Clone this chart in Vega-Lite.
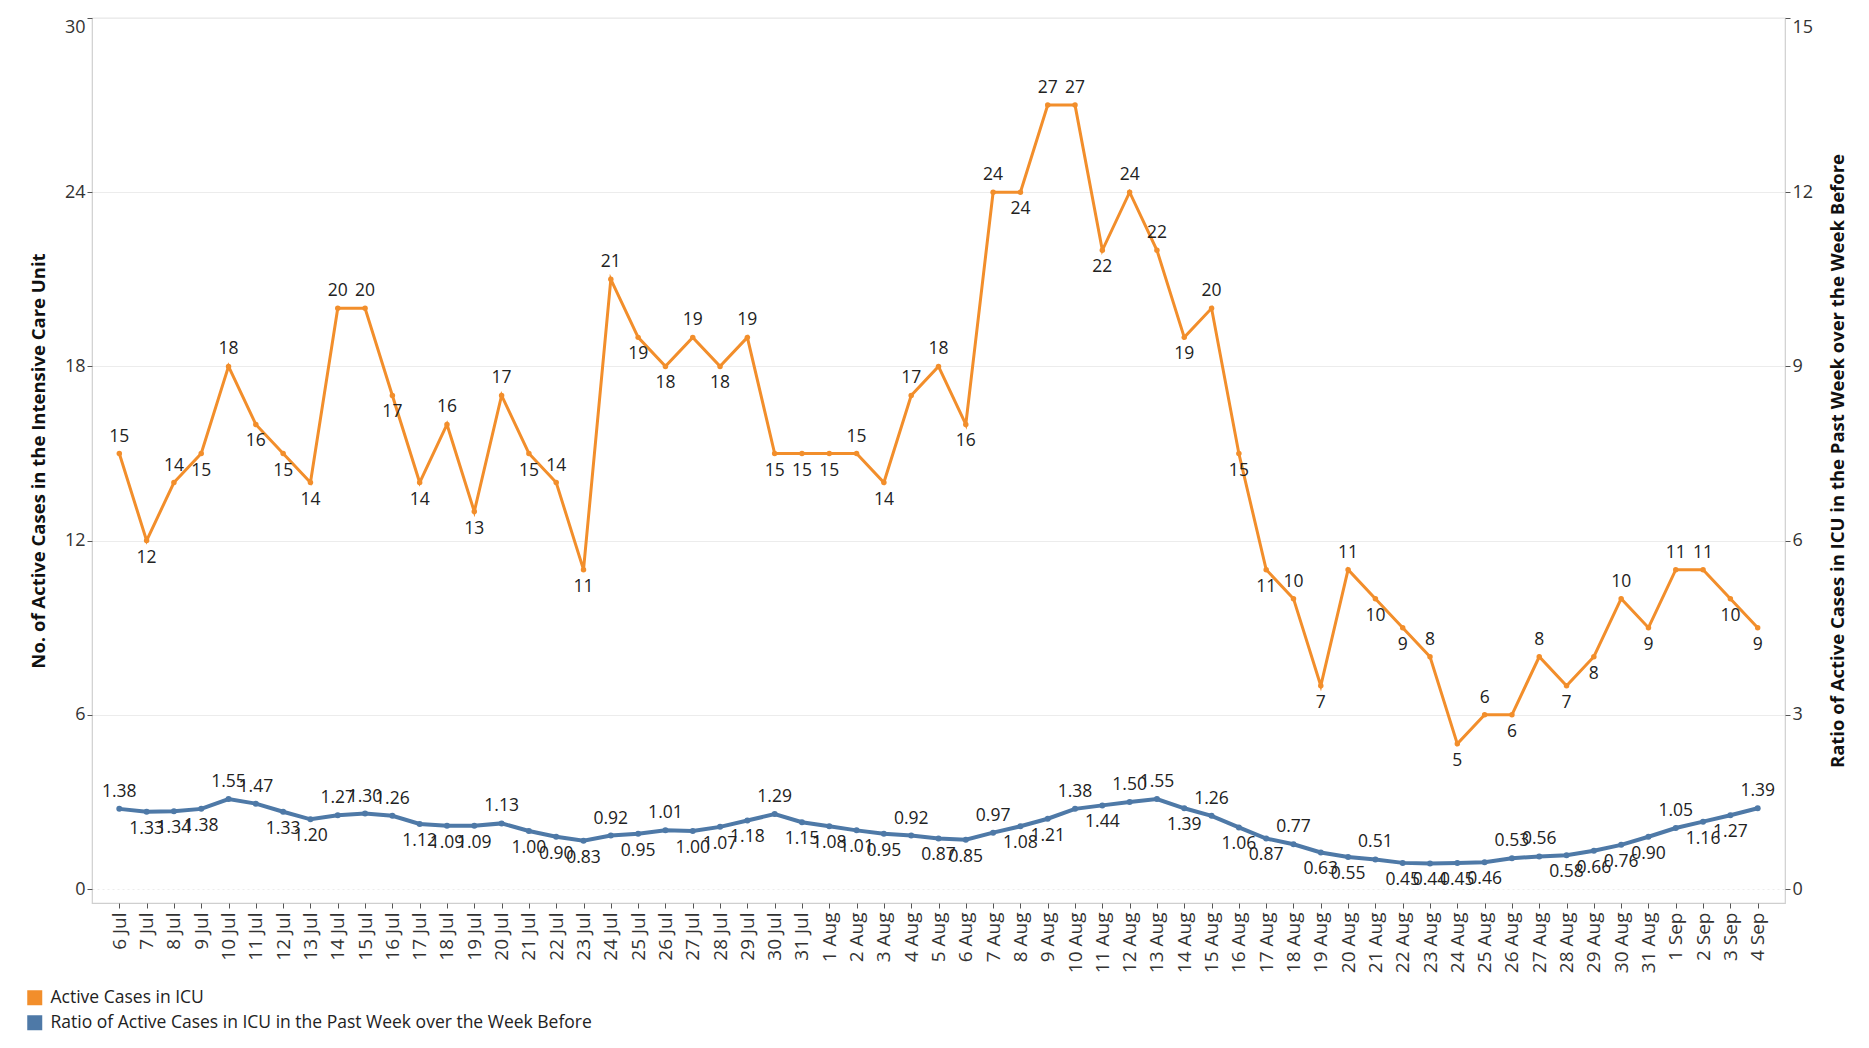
{
  "$schema": "https://vega.github.io/schema/vega-lite/v6.json",
  "width": 1693,
  "height": 885,
  "autosize": {"type": "none"},
  "padding": {"left": 92, "top": 18, "right": 84, "bottom": 145},
  "background": "white",
  "config": {
    "font": "Open Sans",
    "view": {"stroke": "#cfcfcf", "strokeWidth": 1.2},
    "axis": {
      "domain": false,
      "labelFontSize": 18,
      "labelColor": "#333333",
      "tickColor": "#555555",
      "tickSize": 5,
      "labelPadding": 2,
      "titleFontSize": 18.5,
      "titleFontWeight": "bold",
      "titleColor": "#111111"
    },
    "legend": {
      "orient": "none",
      "legendX": -66,
      "legendY": 971,
      "direction": "vertical",
      "title": null,
      "padding": 0,
      "labelFontSize": 17.5,
      "labelColor": "#222222",
      "labelLimit": 0,
      "labelOffset": 7,
      "rowPadding": 6,
      "symbolType": "square",
      "symbolSize": 225,
      "symbolStrokeWidth": 0,
      "symbolOpacity": 1
    }
  },
  "data": {
    "values": [
      {"date": "6 Jul", "icu": 15, "ratio": 1.38},
      {"date": "7 Jul", "icu": 12, "ratio": 1.33},
      {"date": "8 Jul", "icu": 14, "ratio": 1.34},
      {"date": "9 Jul", "icu": 15, "ratio": 1.38},
      {"date": "10 Jul", "icu": 18, "ratio": 1.55},
      {"date": "11 Jul", "icu": 16, "ratio": 1.47},
      {"date": "12 Jul", "icu": 15, "ratio": 1.33},
      {"date": "13 Jul", "icu": 14, "ratio": 1.20},
      {"date": "14 Jul", "icu": 20, "ratio": 1.27},
      {"date": "15 Jul", "icu": 20, "ratio": 1.30},
      {"date": "16 Jul", "icu": 17, "ratio": 1.26},
      {"date": "17 Jul", "icu": 14, "ratio": 1.12},
      {"date": "18 Jul", "icu": 16, "ratio": 1.09},
      {"date": "19 Jul", "icu": 13, "ratio": 1.09},
      {"date": "20 Jul", "icu": 17, "ratio": 1.13},
      {"date": "21 Jul", "icu": 15, "ratio": 1.00},
      {"date": "22 Jul", "icu": 14, "ratio": 0.90},
      {"date": "23 Jul", "icu": 11, "ratio": 0.83},
      {"date": "24 Jul", "icu": 21, "ratio": 0.92},
      {"date": "25 Jul", "icu": 19, "ratio": 0.95},
      {"date": "26 Jul", "icu": 18, "ratio": 1.01},
      {"date": "27 Jul", "icu": 19, "ratio": 1.00},
      {"date": "28 Jul", "icu": 18, "ratio": 1.07},
      {"date": "29 Jul", "icu": 19, "ratio": 1.18},
      {"date": "30 Jul", "icu": 15, "ratio": 1.29},
      {"date": "31 Jul", "icu": 15, "ratio": 1.15},
      {"date": "1 Aug", "icu": 15, "ratio": 1.08},
      {"date": "2 Aug", "icu": 15, "ratio": 1.01},
      {"date": "3 Aug", "icu": 14, "ratio": 0.95},
      {"date": "4 Aug", "icu": 17, "ratio": 0.92},
      {"date": "5 Aug", "icu": 18, "ratio": 0.87},
      {"date": "6 Aug", "icu": 16, "ratio": 0.85},
      {"date": "7 Aug", "icu": 24, "ratio": 0.97},
      {"date": "8 Aug", "icu": 24, "ratio": 1.08},
      {"date": "9 Aug", "icu": 27, "ratio": 1.21},
      {"date": "10 Aug", "icu": 27, "ratio": 1.38},
      {"date": "11 Aug", "icu": 22, "ratio": 1.44},
      {"date": "12 Aug", "icu": 24, "ratio": 1.50},
      {"date": "13 Aug", "icu": 22, "ratio": 1.55},
      {"date": "14 Aug", "icu": 19, "ratio": 1.39},
      {"date": "15 Aug", "icu": 20, "ratio": 1.26},
      {"date": "16 Aug", "icu": 15, "ratio": 1.06},
      {"date": "17 Aug", "icu": 11, "ratio": 0.87},
      {"date": "18 Aug", "icu": 10, "ratio": 0.77},
      {"date": "19 Aug", "icu": 7, "ratio": 0.63},
      {"date": "20 Aug", "icu": 11, "ratio": 0.55},
      {"date": "21 Aug", "icu": 10, "ratio": 0.51},
      {"date": "22 Aug", "icu": 9, "ratio": 0.45},
      {"date": "23 Aug", "icu": 8, "ratio": 0.44},
      {"date": "24 Aug", "icu": 5, "ratio": 0.45},
      {"date": "25 Aug", "icu": 6, "ratio": 0.46},
      {"date": "26 Aug", "icu": 6, "ratio": 0.53},
      {"date": "27 Aug", "icu": 8, "ratio": 0.56},
      {"date": "28 Aug", "icu": 7, "ratio": 0.58},
      {"date": "29 Aug", "icu": 8, "ratio": 0.66},
      {"date": "30 Aug", "icu": 10, "ratio": 0.76},
      {"date": "31 Aug", "icu": 9, "ratio": 0.90},
      {"date": "1 Sep", "icu": 11, "ratio": 1.05},
      {"date": "2 Sep", "icu": 11, "ratio": 1.16},
      {"date": "3 Sep", "icu": 10, "ratio": 1.27},
      {"date": "4 Sep", "icu": 9, "ratio": 1.39}
    ]
  },
  "transform": [
    {"window": [
      {"op": "lag", "field": "icu", "as": "prevIcu"},
      {"op": "lead", "field": "icu", "as": "nextIcu"},
      {"op": "lag", "field": "ratio", "as": "prevR"},
      {"op": "lead", "field": "ratio", "as": "nextR"}
    ]},
    {"calculate": "datum.icu > ((isValid(datum.prevIcu) ? datum.prevIcu : datum.nextIcu) + (isValid(datum.nextIcu) ? datum.nextIcu : datum.prevIcu)) / 2 + 0.001", "as": "icuUp"},
    {"calculate": "datum.ratio > ((isValid(datum.prevR) ? datum.prevR : datum.nextR) + (isValid(datum.nextR) ? datum.nextR : datum.prevR)) / 2 + 0.001", "as": "ratioUp"}
  ],
  "encoding": {
    "x": {
      "field": "date",
      "type": "ordinal",
      "sort": null,
      "scale": {"type": "point", "padding": 1},
      "axis": {"title": null, "labelAngle": 270, "labelPadding": 4, "labelFontSize": 19}
    }
  },
  "layer": [
    {
      "encoding": {
        "y": {
          "field": "icu",
          "type": "quantitative",
          "scale": {"domain": [-0.482, 30], "nice": false, "zero": false},
          "axis": {
            "orient": "left",
            "title": "No. of Active Cases in the Intensive Care Unit",
            "values": [0, 6, 12, 18, 24, 30],
            "grid": true,
            "gridColor": "#ececec",
            "gridWidth": 1,
            "gridDash": {"condition": {"test": "datum.value === 0", "value": [2, 3]}, "value": []},
            "labelFlush": true,
            "titlePadding": 16
          }
        }
      },
      "layer": [
        {
          "mark": {"type": "line", "strokeWidth": 3},
          "encoding": {
            "color": {
              "datum": "Active Cases in ICU",
              "scale": {
                "domain": ["Active Cases in ICU", "Ratio of Active Cases in ICU in the Past Week over the Week Before"],
                "range": ["#F28E2B", "#4E79A7"]
              },
              "legend": {
                "encode": {
                  "symbols": {"update": {"fill": {"scale": "color", "field": "value"}, "stroke": {"value": "transparent"}, "opacity": {"value": 1}}}
                }
              }
            }
          }
        },
        {"mark": {"type": "point", "filled": true, "size": 30, "opacity": 1}, "encoding": {"color": {"datum": "Active Cases in ICU"}}},
        {
          "transform": [{"filter": "datum.icuUp"}],
          "mark": {"type": "text", "dy": -17, "fontSize": 17.5, "color": "#222222", "baseline": "middle"},
          "encoding": {"text": {"field": "icu", "type": "quantitative"}}
        },
        {
          "transform": [{"filter": "!datum.icuUp"}],
          "mark": {"type": "text", "dy": 17, "fontSize": 17.5, "color": "#222222", "baseline": "middle"},
          "encoding": {"text": {"field": "icu", "type": "quantitative"}}
        }
      ]
    },
    {
      "encoding": {
        "y": {
          "field": "ratio",
          "type": "quantitative",
          "scale": {"domain": [-0.241, 15], "nice": false, "zero": false},
          "axis": {
            "orient": "right",
            "title": "Ratio of Active Cases in ICU in the Past Week over the Week Before",
            "values": [0, 3, 6, 9, 12, 15],
            "grid": false,
            "labelFlush": true,
            "titleAngle": 270,
            "titleBaseline": "top",
            "titlePadding": 16
          }
        }
      },
      "layer": [
        {"mark": {"type": "line", "strokeWidth": 4}, "encoding": {"color": {"datum": "Ratio of Active Cases in ICU in the Past Week over the Week Before"}}},
        {"mark": {"type": "point", "filled": true, "size": 36, "opacity": 1}, "encoding": {"color": {"datum": "Ratio of Active Cases in ICU in the Past Week over the Week Before"}}},
        {
          "transform": [{"filter": "datum.ratioUp"}],
          "mark": {"type": "text", "dy": -17, "fontSize": 17.5, "color": "#222222", "baseline": "middle"},
          "encoding": {"text": {"field": "ratio", "type": "quantitative", "format": ".2f"}}
        },
        {
          "transform": [{"filter": "!datum.ratioUp"}],
          "mark": {"type": "text", "dy": 17, "fontSize": 17.5, "color": "#222222", "baseline": "middle"},
          "encoding": {"text": {"field": "ratio", "type": "quantitative", "format": ".2f"}}
        }
      ]
    }
  ],
  "resolve": {"scale": {"y": "independent"}}
}
